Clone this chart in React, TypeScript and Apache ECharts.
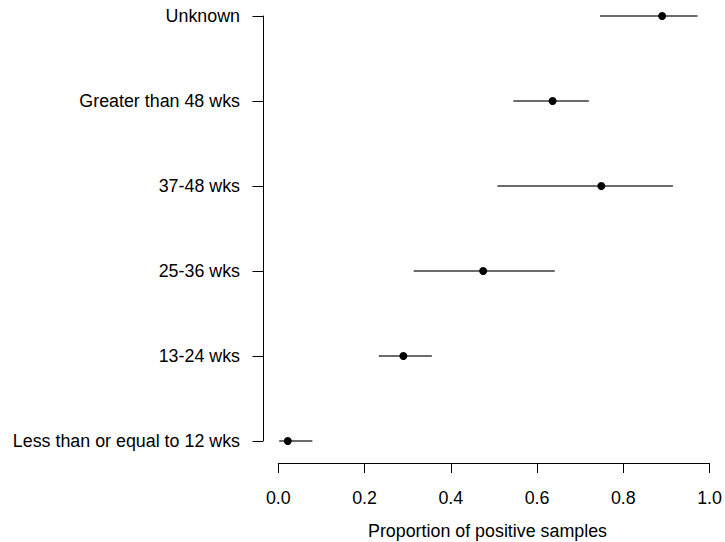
import React, { useEffect, useRef } from "react";
import * as echarts from "echarts";

const categories = [
  "Less than or equal to 12 wks",
  "13-24 wks",
  "25-36 wks",
  "37-48 wks",
  "Greater than 48 wks",
  "Unknown",
];
const estimates = [0.022, 0.29, 0.475, 0.749, 0.636, 0.89];
const lowerBounds = [0.002, 0.233, 0.314, 0.508, 0.545, 0.746];
const upperBounds = [0.079, 0.356, 0.641, 0.915, 0.72, 0.972];
const xTicks = [0, 0.2, 0.4, 0.6, 0.8, 1.0];
const xTitle = "Proportion of positive samples";

const FONT = "'Liberation Sans', Arial, sans-serif";
const FS = 17.85;

export default function App() {
  const ref = useRef<HTMLDivElement>(null);
  useEffect(() => {
    if (!ref.current) return;
    const chart = echarts.init(ref.current, null, { renderer: "svg" });
    const intervalData = categories.map((_, i) => [i, lowerBounds[i], upperBounds[i]]);
    chart.setOption({
      animation: false,
      backgroundColor: "#ffffff",
      grid: { left: 278.3, right: 14, top: 16, bottom: 101, containLabel: false },
      xAxis: {
        type: "value",
        min: 0,
        max: 1,
        interval: 0.2,
        offset: 22,
        splitLine: { show: false },
        axisLine: { show: true, onZero: false, lineStyle: { color: "#000", width: 1 } },
        axisTick: { show: true, length: 10, lineStyle: { color: "#000", width: 1 } },
        axisLabel: {
          margin: 26,
          color: "#000",
          fontSize: FS,
          fontFamily: FONT,
          formatter: (v: number) => (xTicks.some((t) => Math.abs(t - v) < 1e-9) ? v.toFixed(1) : ""),
        },
      },
      yAxis: {
        type: "category",
        data: categories,
        boundaryGap: false,
        offset: 15.3,
        splitLine: { show: false },
        axisLine: { show: true, onZero: false, lineStyle: { color: "#000", width: 1 } },
        axisTick: { show: true, length: 10.5, alignWithLabel: true, lineStyle: { color: "#000", width: 1 } },
        axisLabel: {
          margin: 23,
          color: "#000",
          fontSize: FS,
          fontFamily: FONT,
          interval: 0,
        },
      },
      graphic: [
        {
          type: "text",
          x: 487.5,
          y: 531,
          style: {
            text: xTitle,
            fill: "#000",
            font: `${FS}px ${FONT}`,
            textAlign: "center",
            textVerticalAlign: "middle",
          },
        },
      ],
      series: [
        {
          type: "custom",
          data: intervalData,
          encode: { x: [1, 2], y: 0 },
          renderItem: (params: any, api: any) => {
            const y = api.value(0);
            const p1 = api.coord([api.value(1), y]);
            const p2 = api.coord([api.value(2), y]);
            return {
              type: "line",
              shape: { x1: p1[0], y1: p1[1], x2: p2[0], y2: p2[1] },
              style: { stroke: "#3a3a3a", lineWidth: 1.4 },
            };
          },
          z: 2,
        },
        {
          type: "scatter",
          data: estimates.map((v, i) => [v, i]),
          symbol: "circle",
          symbolSize: 8,
          itemStyle: { color: "#000", opacity: 1 },
          z: 3,
        },
      ],
    });
    return () => chart.dispose();
  }, []);
  return <div ref={ref} style={{ width: 725, height: 542, position: "absolute", left: 0, top: 0 }} />;
}
